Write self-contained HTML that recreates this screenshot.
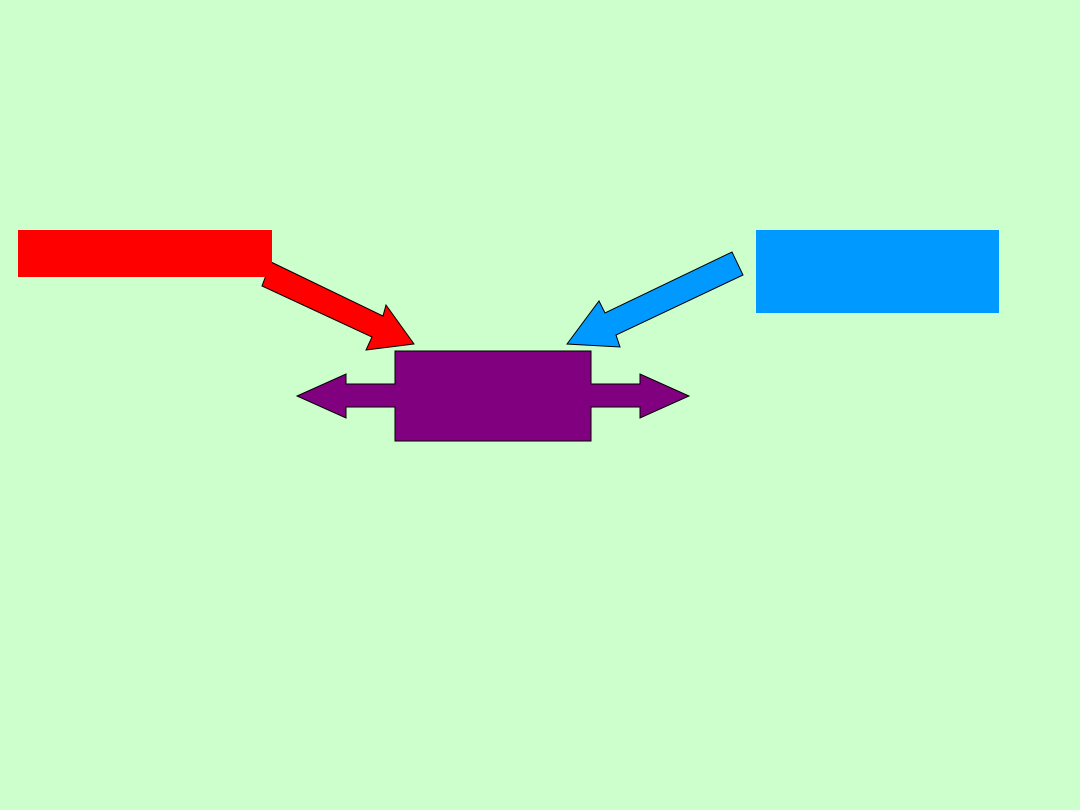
<!DOCTYPE html>
<html><head><style>html,body{margin:0;padding:0;background:#ccffcc;}</style></head>
<body>
<svg width="1080" height="810" xmlns="http://www.w3.org/2000/svg" style="display:block">
<rect width="1080" height="810" fill="#ccffcc"/>
<polygon points="271,262 383,316 386,305 414,344 366,350 372,337 262,286" fill="#ff0000" stroke="#000" stroke-width="1"/>
<rect x="18" y="230" width="254" height="47" fill="#ff0000"/>
<polygon points="732,252 743,275 616,335 620,347 567,344 599,301 605,313" fill="#0099ff" stroke="#000" stroke-width="1"/>
<rect x="756" y="230" width="243" height="83" fill="#0099ff"/>
<polygon points="395,351 591,351 591,384 640,384 640,374 689,396 640,418 640,407 591,407 591,441 395,441 395,407 346,407 346,418 297,396 346,374 346,384 395,384" fill="#800080" stroke="#000" stroke-width="1"/>
</svg>
</body></html>
